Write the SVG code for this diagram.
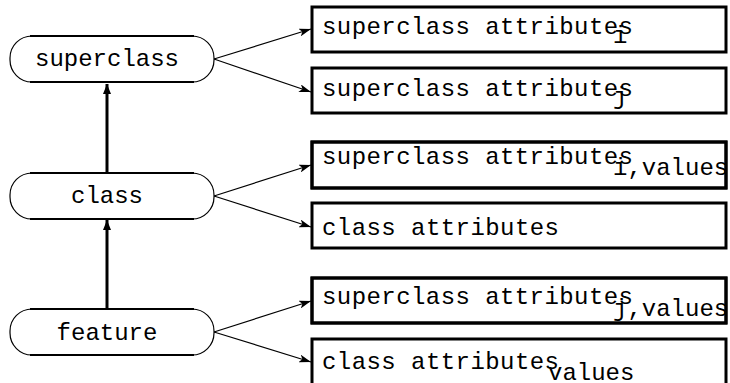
<svg xmlns="http://www.w3.org/2000/svg" width="730" height="383" viewBox="0 0 730 383">
<style>
.node{fill:#fff;stroke:#000;stroke-width:1.2}
.edge{stroke:#000;stroke-width:2.2}
.box{fill:#fff;stroke:#000;stroke-width:3}
.bord{fill:none;stroke:#000;stroke-width:3}
.t{font-family:"Liberation Mono","DejaVu Sans Mono",monospace;font-size:24px;fill:#000}
.c{stroke:#000;stroke-width:1.2;fill:none}
.v{stroke:#000;stroke-width:3;fill:none}
</style>
<defs>
<marker id="ah" markerWidth="12" markerHeight="8" refX="12" refY="4" orient="auto" markerUnits="userSpaceOnUse">
<path d="M0,0 L12,4 L0,8 L3,4 z" fill="#000"/>
</marker>
<marker id="av" markerWidth="8" markerHeight="10" refX="10" refY="4" orient="auto" markerUnits="userSpaceOnUse">
<path d="M0,0 L10,4 L0,8 z" fill="#000"/>
</marker>
</defs>
<g id="connectors">
<line class="v" x1="107" y1="173" x2="107" y2="84" marker-end="url(#av)"/>
<line class="v" x1="107" y1="309" x2="107" y2="220" marker-end="url(#av)"/>
<line class="c" x1="214" y1="59" x2="311" y2="29" marker-end="url(#ah)"/>
<line class="c" x1="214" y1="59" x2="311" y2="92" marker-end="url(#ah)"/>
<line class="c" x1="214" y1="196" x2="311" y2="165" marker-end="url(#ah)"/>
<line class="c" x1="214" y1="196" x2="311" y2="227" marker-end="url(#ah)"/>
<line class="c" x1="214" y1="332" x2="311" y2="301" marker-end="url(#ah)"/>
<line class="c" x1="214" y1="332" x2="311" y2="362" marker-end="url(#ah)"/>
</g>
<g id="superclass">
<rect class="node" x="10" y="36" width="204" height="46" rx="22"/>
<line class="edge" x1="30" y1="36" x2="194" y2="36"/>
<line class="edge" x1="30" y1="82" x2="194" y2="82"/>
<text class="t" x="107" y="66" text-anchor="middle">superclass</text>
</g>
<g id="class">
<rect class="node" x="10" y="173" width="204" height="46" rx="22"/>
<line class="edge" x1="30" y1="173" x2="194" y2="173"/>
<line class="edge" x1="30" y1="219" x2="194" y2="219"/>
<text class="t" x="107" y="203" text-anchor="middle">class</text>
</g>
<g id="feature">
<rect class="node" x="10" y="309" width="204" height="46" rx="22"/>
<line class="edge" x1="30" y1="309" x2="194" y2="309"/>
<line class="edge" x1="30" y1="355" x2="194" y2="355"/>
<text class="t" x="107" y="340" text-anchor="middle">feature</text>
</g>
<g id="box1">
<rect class="box" x="312" y="7" width="414" height="45"/>
<text class="t" x="322" y="34" textLength="311">superclass attributes</text>
<text class="t" x="613" y="43">i</text>
</g>
<g id="box2">
<rect class="box" x="312" y="68" width="414" height="45"/>
<text class="t" x="322" y="96" textLength="311">superclass attributes</text>
<text class="t" x="613" y="104">j</text>
</g>
<g id="box3">
<rect class="box" x="312" y="142" width="414" height="46"/>
<text class="t" x="322" y="164" textLength="311">superclass attributes</text>
<text class="t" x="613" y="175">i,values</text>
<rect class="bord" x="312" y="142" width="414" height="46"/>
</g>
<g id="box4">
<rect class="box" x="312" y="203" width="414" height="45"/>
<text class="t" x="322" y="235" textLength="237">class attributes</text>
</g>
<g id="box5">
<rect class="box" x="312" y="278" width="414" height="45"/>
<text class="t" x="322" y="304" textLength="311">superclass attributes</text>
<text class="t" x="613" y="316">j,values</text>
<rect class="bord" x="312" y="278" width="414" height="45"/>
</g>
<g id="box6">
<rect class="box" x="312" y="339" width="414" height="60"/>
<text class="t" x="322" y="369" textLength="237">class attributes</text>
<text class="t" x="548" y="380">values</text>
</g>
</svg>
